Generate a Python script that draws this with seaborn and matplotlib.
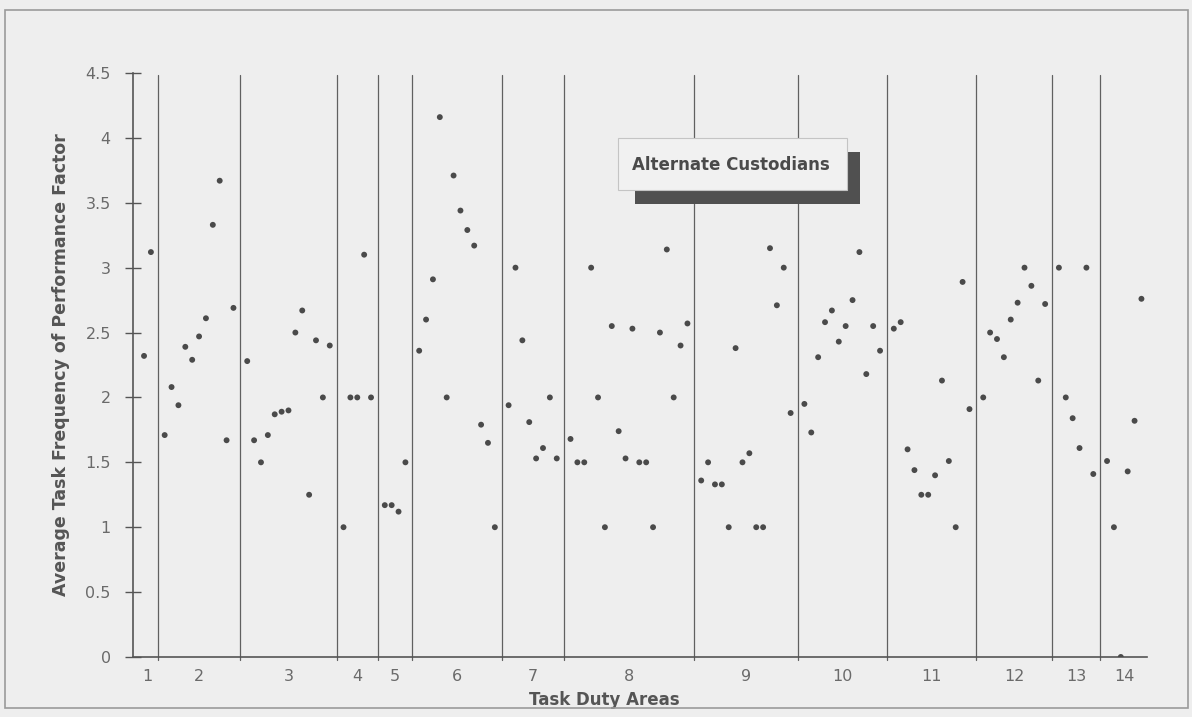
import numpy as np
import pandas as pd
import matplotlib
matplotlib.use("Agg")
import matplotlib.pyplot as plt
from matplotlib.patches import Rectangle
import seaborn as sns

# Average task frequency-of-performance factor, one list per task duty area
area_labels = [str(i) for i in range(1, 15)]

area01 = [2.32, 3.12]
area02 = [1.71, 2.08, 1.94, 2.39, 2.29, 2.47, 2.61, 3.33, 3.67, 1.67, 2.69]
area03 = [2.28, 1.67, 1.50, 1.71, 1.87, 1.89, 1.90, 2.50, 2.67, 1.25, 2.44, 2.00, 2.40]
area04 = [1.00, 2.00, 2.00, 3.10, 2.00]
area05 = [1.17, 1.17, 1.12, 1.50]
area06 = [2.36, 2.60, 2.91, 4.16, 2.00, 3.71, 3.44, 3.29, 3.17, 1.79, 1.65, 1.00]
area07 = [1.94, 3.00, 2.44, 1.81, 1.53, 1.61, 2.00, 1.53]
area08 = [1.68, 1.50, 1.50, 3.00, 2.00, 1.00, 2.55, 1.74, 1.53, 2.53, 1.50, 1.50,
          1.00, 2.50, 3.14, 2.00, 2.40, 2.57]
area09 = [1.36, 1.50, 1.33, 1.33, 1.00, 2.38, 1.50, 1.57, 1.00, 1.00, 3.15, 2.71,
          3.00, 1.88]
area10 = [1.95, 1.73, 2.31, 2.58, 2.67, 2.43, 2.55, 2.75, 3.12, 2.18, 2.55, 2.36]
area11 = [2.53, 2.58, 1.60, 1.44, 1.25, 1.25, 1.40, 2.13, 1.51, 1.00, 2.89, 1.91]
area12 = [2.00, 2.50, 2.45, 2.31, 2.60, 2.73, 3.00, 2.86, 2.13, 2.72]
area13 = [3.00, 2.00, 1.84, 1.61, 3.00, 1.41]
area14 = [1.51, 1.00, 0.00, 1.43, 1.82, 2.76]

areas = [area01, area02, area03, area04, area05, area06, area07,
         area08, area09, area10, area11, area12, area13, area14]

y_ticks = [0, 0.5, 1, 1.5, 2, 2.5, 3, 3.5, 4, 4.5]
y_tick_labels = ["0", "0.5", "1", "1.5", "2", "2.5", "3", "3.5", "4", "4.5"]

# Lay tasks out one slot apart, leaving an empty slot for the divider between areas
rows, centers, dividers = [], [], []
slot = 0
for label, vals in zip(area_labels, areas):
    pos = np.arange(slot, slot + len(vals))
    rows += [{"task": p, "factor": v, "area": label} for p, v in zip(pos, vals)]
    centers.append(pos.mean())
    slot += len(vals)
    dividers.append(slot)
    slot += 1
dividers = dividers[:-1]
df = pd.DataFrame(rows)

sns.set_theme(style="white")
plt.rcParams["font.family"] = ["DejaVu Sans"]

bg = "#eeeeee"

fig = plt.figure(figsize=(11.92, 7.17), dpi=100, facecolor=bg)
ax = fig.add_axes([0.1116, 0.0837, 0.8506, 0.8145])
ax.set_facecolor(bg)

sns.scatterplot(data=df, x="task", y="factor", ax=ax, color="#4a4a4a",
                s=18, edgecolor="none", legend=False, zorder=3)

for d in dividers:
    ax.axvline(d, ymin=-0.006, ymax=0.996, color="#606060", lw=0.9, zorder=2,
               clip_on=False)

ax.set_xlim(-1.6, 145.8)
ax.set_ylim(0, 4.5)

for side in ("top", "right"):
    ax.spines[side].set_visible(False)
for side in ("left", "bottom"):
    ax.spines[side].set_color("#555555")
    ax.spines[side].set_linewidth(1.2)

ax.set_yticks(y_ticks)
ax.set_yticklabels(y_tick_labels)
ax.tick_params(axis="y", direction="inout", length=12, width=1.0, color="#555555",
               labelsize=11.5, labelcolor="#6a6a6a", pad=10, left=True)
ax.set_xticks(centers)
ax.set_xticklabels(area_labels)
ax.tick_params(axis="x", length=0, labelsize=11.5, labelcolor="#6a6a6a", pad=9)

ax.set_xlabel("Task Duty Areas", fontsize=12, fontweight="bold", color="#555555")
ax.xaxis.set_label_coords(0.465, -0.058)
ax.set_ylabel("Average Task Frequency of Performance Factor", fontsize=12.5,
              fontweight="bold", color="#555555")
ax.yaxis.set_label_coords(-0.062, 0.5)

# Title box with a heavy drop shadow
ax.add_patch(Rectangle((0.495, 0.7757), 0.222, 0.089, transform=ax.transAxes,
                       facecolor="#505050", edgecolor="none", zorder=5, clip_on=False))
ax.add_patch(Rectangle((0.478, 0.7997), 0.226, 0.089, transform=ax.transAxes,
                       facecolor="#f1f1f1", edgecolor="#c4c4c4", lw=0.8, zorder=6,
                       clip_on=False))
ax.text(0.492, 0.8425, "Alternate Custodians", transform=ax.transAxes,
        fontsize=12, fontweight="bold", color="#4a4a4a", ha="left", va="center",
        zorder=7)

# Outer frame
fig.add_artist(Rectangle((0.0042, 0.0126), 0.9924, 0.9735, transform=fig.transFigure,
                         facecolor="none", edgecolor="#9a9a9a", lw=1.2))

fig.savefig("out.png", dpi=100, facecolor=bg)
